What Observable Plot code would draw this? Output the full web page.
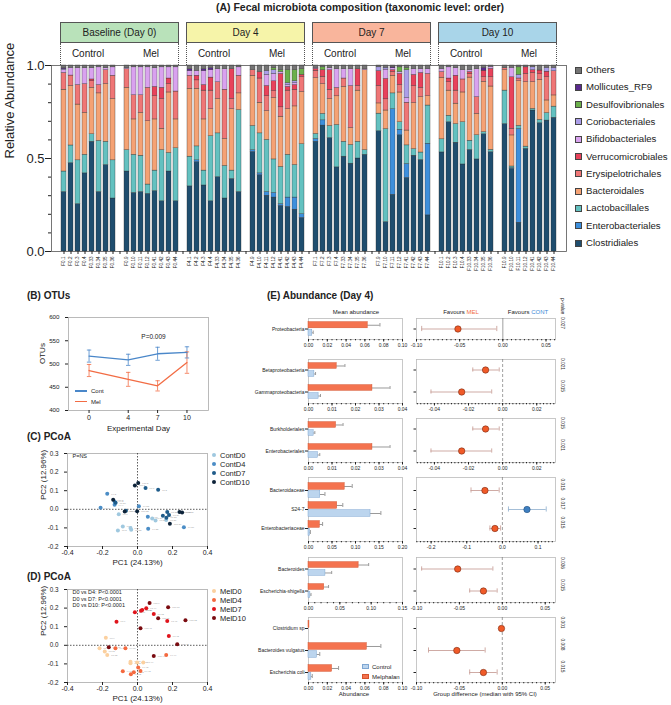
<!DOCTYPE html>
<html><head><meta charset="utf-8">
<script src="https://cdn.jsdelivr.net/npm/d3@7"></script>
<script src="https://cdn.jsdelivr.net/npm/@observablehq/plot@0.6"></script>
<style>
html,body{margin:0;padding:0;background:#fff;}
#root{position:relative;width:671px;height:705px;overflow:hidden;font-family:"Liberation Sans",Arial,Helvetica,sans-serif;color:#222;}
#root svg{position:absolute;}
.t{position:absolute;white-space:nowrap;line-height:1;}
</style></head><body><div id="root"></div>
<script>
const FONT = "Liberation Sans, Arial, Helvetica, sans-serif";
// ---------------- Panel A data ----------------
const taxa = ["Clostridiales","Enterobacteriales","Lactobacillales","Bacteroidales","Erysipelotrichales","Verrucomicrobiales","Bifidobacteriales","Coriobacteriales","Desulfovibrionales","Mollicutes_RF9","Others"];
const taxaColors = ["#1f4e6f","#3d8fdc","#63c1c0","#f5a274","#ef7676","#e8425b","#d9a2ef","#ab9ee9","#6bb04b","#5a2a8e","#747474"];
const dayLabels = ["Baseline (Day 0)","Day 4","Day 7","Day 10"];
const dayColors = ["#b9e2ba","#f6f4a9","#f9b59c","#a9d5e9"];
const groupLabels = ["Control","Mel"];
const ctrlSamples = [
 ["F0.1","F0.2","F0.3","F0.4","F0.33","F0.34","F0.35","F0.36"],
 ["F4.1","F4.2","F4.3","F4.4","F4.33","F4.34","F4.35","F4.36"],
 ["F7.1","F7.2","F7.3","F7.4","F7.33","F7.34","F7.35","F7.36"],
 ["F10.1","F10.2","F10.3","F10.4","F10.33","F10.34","F10.35","F10.36"]];
const melSamples = [
 ["F0.9","F0.10","F0.11","F0.12","F0.41","F0.42","F0.43","F0.44"],
 ["F4.9","F4.10","F4.11","F4.12","F4.41","F4.42","F4.43","F4.44"],
 ["F7.9","F7.10","F7.11","F7.12","F7.41","F7.42","F7.43","F7.44"],
 ["F10.9","F10.10","F10.11","F10.12","F10.41","F10.42","F10.43","F10.44"]];
// columns follow `taxa`
const ctrlD0 = [
 [.32,0,.11,.44,.09,0,.015,.005,0,.005,.015],
 [.475,0,.095,.32,.056,0,.04,0,0,0,.014],
 [.255,0,.235,.30,.105,0,.09,0,0,0,.015],
 [.42,0,.10,.225,.155,0,.085,0,0,0,.015],
 [.59,0,.04,.25,.035,.01,.06,0,0,0,.015],
 [.32,0,.275,.255,.045,0,.095,0,0,0,.01],
 [.465,0,.125,.31,.075,0,.01,0,0,0,.015],
 [.285,0,.205,.33,.125,0,.045,0,0,0,.01]];
const melD0 = [
 [.43,0,.115,.335,.10,0,.005,0,0,0,.015],
 [.315,0,.205,.19,.13,0,.15,0,0,0,.01],
 [.32,0,.195,.23,.095,0,.15,0,0,0,.01],
 [.31,0,.05,.34,.18,0,.11,0,0,0,.01],
 [.325,0,.11,.275,.125,.05,.10,0,0,0,.015],
 [.27,0,.275,.115,.16,.06,.11,0,0,0,.01],
 [.43,0,.10,.325,.045,.03,.06,0,0,0,.01],
 [.27,0,.285,.155,.15,0,.13,0,0,0,.01]];
const ctrlD4 = [
 [.35,0,.16,.365,.07,0,.025,0,0,.01,.02],
 [.48,.01,.075,.31,.045,.025,.025,0,0,0,.03],
 [.355,0,.08,.275,.155,.03,.075,0,0,.01,.02],
 [.27,0,.35,.145,.10,.07,.04,0,0,.01,.015],
 [.40,0,.235,.185,.09,0,.07,0,0,0,.02],
 [.285,0,.175,.145,.265,0,.11,0,0,0,.02],
 [.39,0,.045,.33,.055,.16,0,0,0,0,.02],
 [.32,0,.44,.09,.095,0,.045,0,0,0,.01]];
const melD4 = [
 [.535,.01,.13,.27,.03,0,0,0,0,0,.025],
 [.41,.01,.215,.165,.13,.035,0,0,0,0,.035],
 [.30,.02,.28,.155,.08,.055,.06,.02,0,0,.03],
 [.29,.025,.18,.33,.037,.053,.04,.02,.01,0,.015],
 [.245,.01,.20,.27,.05,.18,.01,0,.01,0,.025],
 [.24,.05,.23,.245,.10,.02,.01,.01,.07,0,.025],
 [.225,.065,.175,.315,.09,.025,.01,.01,.06,0,.025],
 [.18,.02,.375,.28,.08,.012,0,0,.03,0,.02]];
const ctrlD7 = [
 [.59,.015,.027,.30,.04,.01,.005,0,0,0,.013],
 [.677,.028,.035,.16,.04,.035,0,0,.015,0,.01],
 [.61,0,.065,.145,.05,.105,.01,0,0,0,.015],
 [.45,0,.227,.153,.045,0,.10,0,0,0,.02],
 [.51,0,.08,.295,.045,0,.05,0,0,0,.02],
 [.47,0,.10,.09,.225,0,.09,0,0,0,.02],
 [.50,0,.09,.275,.025,.09,0,0,0,0,.02],
 [.52,0,.025,.43,0,0,.005,0,0,0,.02]];
const melD7 = [
 [.65,0,.095,.055,.095,.08,0,.02,0,0,.01],
 [.158,0,.50,.10,.06,.11,.05,.01,0,0,.012],
 [.305,.46,.085,.095,.02,.01,.01,0,0,.005,.01],
 [.624,.03,.04,.16,.04,.06,.01,0,.025,0,.01],
 [.396,.075,.10,.08,.15,0,.025,.15,.01,0,.015],
 [.51,0,.035,.245,.09,.06,.03,0,0,0,.02],
 [.49,0,.04,.296,.05,.08,.02,0,0,0,.02],
 [.194,.385,.205,.05,.12,0,.025,0,0,0,.02]];
const ctrlD10 = [
 [.53,0,.07,.33,.03,0,.015,0,0,0,.02],
 [.695,0,.035,.135,.045,.02,.06,0,0,0,.01],
 [.585,0,.10,.11,.07,.08,.04,0,0,0,.015],
 [.468,0,.227,.16,.07,0,.05,0,0,0,.025],
 [.547,0,.05,.34,.02,.01,.01,0,0,0,.025],
 [.495,0,.13,.115,.09,0,.15,0,0,0,.02],
 [.63,0,.012,.27,.025,.035,0,0,0,.015,.013],
 [.534,0,.013,.34,.05,.045,.01,0,0,0,.008]];
const melD10 = [
 [.686,0,.18,.11,.01,0,0,0,0,0,.015],
 [.444,.005,.008,.167,.036,.277,.05,0,0,0,.013],
 [.155,.505,.017,.24,.015,0,0,.02,.04,0,.01],
 [.552,0,.012,.346,.045,.035,0,0,0,0,.01],
 [.758,0,.009,.143,.05,.015,0,.015,0,0,.01],
 [.69,0,.018,.215,.03,.02,0,0,0,0,.027],
 [.704,0,.04,.068,.125,.03,0,.02,0,0,.013],
 [.719,0,.06,.06,.13,0,0,.018,0,0,.013]];
const ctrlAbund = [ctrlD0, ctrlD4, ctrlD7, ctrlD10];
const melAbund = [melD0, melD4, melD7, melD10];

// ---------------- Panel B data ----------------
const otuDays = [0, 4, 7, 10];
const otuContMean = [517, 509, 522, 525];
const otuContSd = [13, 12, 14, 12];
const otuMelMean = [486, 467, 453, 503];
const otuMelSd = [13, 15, 11, 23];

// ---------------- Panel C / D data (PC1, PC2) ----------------
const contGroups = ["ContD0","ContD4","ContD7","ContD10"];
const contColors = ["#9fc8df","#4b8dc6","#1f5c8a","#0d2339"];
const pcoaContD0 = [[-0.107,-0.026],[-0.084,-0.092],[-0.112,-0.114],[-0.04,-0.10],[-0.036,-0.11],[0.084,-0.05],[0.103,-0.06],[0.164,-0.057]];
const pcoaContD4 = [[-0.211,0.008],[-0.173,0.083],[-0.131,0.042],[-0.131,0.024],[0.008,0.016],[0.059,-0.04],[0.061,-0.105],[0.265,-0.097]];
const pcoaContD7 = [[0.046,0.115],[0.118,0.105],[-0.066,-0.008],[0.145,-0.035],[0.17,-0.015],[0.18,-0.03],[0.165,-0.045],[-0.125,0.035]];
const pcoaContD10 = [[-0.015,0.128],[0.004,0.142],[-0.139,0.051],[-0.073,-0.012],[-0.002,-0.010],[0.185,-0.078],[0.24,-0.015],[0.255,-0.017]];
const melGroups = ["MelD0","MelD4","MelD7","MelD10"];
const melColors = ["#fbd09f","#f4693f","#e0141c","#7a0b10"];
const pcoaMelD0 = [[-0.181,0.04],[-0.217,-0.016],[-0.187,-0.034],[-0.173,-0.052],[-0.04,-0.088],[-0.04,-0.097],[-0.002,-0.093],[0.033,-0.093]];
const pcoaMelD4 = [[-0.126,-0.016],[-0.069,-0.016],[-0.084,-0.14],[-0.038,-0.155],[-0.021,-0.145],[0.004,-0.12],[0.017,-0.138],[0.164,-0.052]];
const pcoaMelD7 = [[-0.12,0.127],[-0.015,0.178],[0.027,0.19],[0.093,0.168],[0.17,0.13],[0.179,0.05],[0.02,0.186],[0.05,0.199]];
const pcoaMelD10 = [[0.069,0.227],[0.175,0.205],[0.118,0.146],[0.274,0.135],[0.017,0.091],[0.227,0.006],[-0.164,-0.01],[0.093,-0.058]];
const pcoaTicksX = [-0.4,-0.2,0,0.2,0.4];
const pcoaTicksY = [-0.2,-0.1,0,0.1,0.2,0.3];

// ---------------- Panel E data ----------------
const eTaxa = ["Proteobacteria","Betaproteobacteria","Gammaproteobacteria","Burkholderiales","Enterobacteriales","Bacteroidaceae","S24-7","Enterobacteriaceae","Bacteroides","Escherichia-shigella","Clostridium sp","Bacteroides vulgatus","Escherichia coli"];
const ePanelOf = [0,1,1,2,2,3,3,3,4,4,5,5,5];
const eMelMean = [0.063,0.0120,0.0272,0.0117,0.0272,0.077,0.061,0.024,0.080,0.025,0.001,0.062,0.025];
const eMelErr  = [0.013,0.0035,0.0075,0.0030,0.0075,0.016,0.012,0.006,0.016,0.007,0.000,0.015,0.007];
const eCtrlMean= [0.004,0.0025,0.0043,0.0022,0.0040,0.025,0.132,0.003,0.027,0.003,0.000,0.009,0.003];
const eCtrlErr = [0.001,0.0005,0.0008,0.0005,0.0008,0.010,0.022,0.001,0.010,0.001,0.000,0.003,0.001];
const eDiffMed = [-0.052,-0.010,-0.024,-0.010,-0.024,-0.049,0.069,-0.021,-0.052,-0.022,-0.001,-0.053,-0.022];
const eDiffLo  = [-0.094,-0.0175,-0.042,-0.0175,-0.042,-0.088,0.017,-0.035,-0.094,-0.038,-0.001,-0.086,-0.038];
const eDiffHi  = [-0.007,-0.002,-0.0064,-0.002,-0.0064,-0.009,0.123,-0.005,-0.011,-0.006,-0.001,-0.020,-0.006];
const ePValue  = ["0.027","0.021","0.015","0.015","0.021","0.015","0.017","0.015","0.036","0.015","0.001","0.008","0.015"];
const eAbundMax = [0.10,0.04,0.04,0.20,0.15,0.10];
const eAbundTicks = [[0,0.02,0.04,0.06,0.08,0.10],[0,0.01,0.02,0.03,0.04],[0,0.01,0.02,0.03,0.04],[0,0.05,0.10,0.15,0.20],[0,0.05,0.10,0.15],[0,0.02,0.04,0.06,0.08,0.10]];
const eDiffDomain = [[-0.10,0.061],[-0.0505,0.031],[-0.0505,0.031],[-0.241,0.149],[-0.10,0.062],[-0.10,0.062]];
const eDiffTicks = [[-0.10,-0.05,0,0.05],[-0.04,-0.02,0,0.02],[-0.04,-0.02,0,0.02],[-0.2,-0.1,0,0.1],[-0.10,-0.05,0,0.05],[-0.10,-0.05,0,0.05]];
const eDiffDigits = [2,2,2,1,2,2];

// ---------------- layout helpers ----------------
const root = document.getElementById("root");
function put(svg, left, top){ svg.style.left = left+"px"; svg.style.top = top+"px"; svg.style.position="absolute"; root.appendChild(svg); return svg; }
function txt(html, left, top, css){ const d=document.createElement("div"); d.className="t"; d.innerHTML=html; d.style.left=left+"px"; d.style.top=top+"px"; if(css) d.style.cssText += css; root.appendChild(d); return d; }
const baseStyle = {background:"transparent", fontFamily:FONT, overflow:"visible", color:"#222"};
const capSymbol = {draw(ctx, size){ const r=Math.sqrt(size/Math.PI); ctx.moveTo(-r,0); ctx.lineTo(r,0); }};

// ================= Panel A =================
const tidyA = []; const xDomain = [];
for (let d=0; d<4; d++){
  for (const [names, rows] of [[ctrlSamples[d], ctrlAbund[d]],[melSamples[d], melAbund[d]]]){
    names.forEach((s,i)=>{ rows[i].forEach((v,j)=>{ if (v>0) tidyA.push({sample:s, taxon:taxa[j], value:v}); }); xDomain.push(s); });
    if (xDomain.length < 71) xDomain.push("gap"+xDomain.length);
  }
}
const chartA = Plot.plot({
  width:575, height:300, marginTop:65, marginBottom:49, marginLeft:51, marginRight:9,
  style:baseStyle,
  x:{domain:xDomain, padding:0.3},
  y:{domain:[0,1]},
  color:{domain:taxa, range:taxaColors},
  marks:[
    Plot.barY(tidyA, Plot.stackY({offset:"normalize", order:taxa}, {x:"sample", y:"value", fill:"taxon", stroke:"#2b2b2b", strokeWidth:0.35})),
    Plot.frame({stroke:"#555", strokeWidth:0.8}),
    Plot.axisX({tickRotate:-90, tickSize:3, fontSize:4.6, tickPadding:2, label:null, tickFormat:d=>d.startsWith("gap")?"":d}),
    Plot.axisY({ticks:[0,0.5,1], tickFormat:d=>d.toFixed(1), fontSize:13, tickSize:6, tickPadding:1, label:null}),
    Plot.axisY({ticks:[0.1,0.2,0.3,0.4,0.6,0.7,0.8,0.9], tickFormat:()=>"", tickSize:3, label:null}),
    Plot.text(["Relative Abundance"], {frameAnchor:"left", rotate:-90, dx:-42, fontSize:13, fill:"#222"})
  ]
});
put(chartA, 0, 0);
txt("<b>(A) Fecal microbiota composition (taxonomic level: order)</b>", 360, 2, "font-size:10.5px;transform:translateX(-50%);");
{
  const sx = chartA.scale("x");
  const bw = sx.bandwidth;
  const band = d3.scaleBand().domain(xDomain).range(sx.range).paddingInner(0.3).paddingOuter(0.3);
  const pos = v => (typeof sx.apply === "function") ? sx.apply(v) : band(v);
  for (let d=0; d<4; d++){
    const c0 = pos(ctrlSamples[d][0]), c1 = pos(ctrlSamples[d][7]) + bw;
    const m0 = pos(melSamples[d][0]), m1 = pos(melSamples[d][7]) + bw;
    const left = c0 - 1.3, width = (m1 + 1.3) - left;
    const box = document.createElement("div");
    box.style.cssText = `position:absolute;left:${left}px;top:22px;width:${width}px;height:21px;box-sizing:border-box;border:1px solid #555;background:${dayColors[d]};font-size:10px;line-height:20px;text-align:center;`;
    box.textContent = dayLabels[d]; root.appendChild(box);
    const sub = document.createElement("div");
    sub.style.cssText = `position:absolute;left:${left}px;top:43px;width:${width}px;height:22px;box-sizing:border-box;border-left:1px dotted #555;border-right:1px dotted #555;`;
    root.appendChild(sub);
    txt(groupLabels[0], (c0+c1)/2, 49, "font-size:10px;transform:translateX(-50%);");
    txt(groupLabels[1], (m0+m1)/2, 49, "font-size:10px;transform:translateX(-50%);");
  }
  // legend
  for (let k=0; k<taxa.length; k++){
    const j = taxa.length-1-k;
    const y = 70 + k*17.3;
    const sq = document.createElement("div");
    sq.style.cssText = `position:absolute;left:575px;top:${y-3.5}px;width:7px;height:7px;box-sizing:border-box;background:${taxaColors[j]};border:0.6px solid #444;`;
    root.appendChild(sq);
    txt(taxa[j], 586, y-5, "font-size:9.6px;");
  }
}

// ================= Panel B =================
const otuData = otuDays.flatMap((d,i)=>[
  {day:d, group:"Cont", mean:otuContMean[i], sd:otuContSd[i]},
  {day:d, group:"Mel", mean:otuMelMean[i], sd:otuMelSd[i]}]);
const otuColor = {Cont:"#4a87c9", Mel:"#f26c44"};
const chartB = Plot.plot({
  width:230, height:140, marginLeft:68, marginRight:22, marginTop:17, marginBottom:30,
  style:baseStyle,
  x:{domain:[-2.1,12.2]}, y:{domain:[400,600]},
  marks:[
    Plot.frame({stroke:"#aaa", strokeWidth:0.8}),
    Plot.axisX({ticks:otuDays, tickSize:3, fontSize:7, tickPadding:1.5, label:null, tickFormat:d=>String(d)}),
    Plot.axisY({ticks:[400,450,500,550,600], tickSize:3, fontSize:6.2, label:null, tickFormat:d=>String(d)}),
    Plot.ruleX(otuData, {x:"day", y1:d=>d.mean-d.sd, y2:d=>d.mean+d.sd, stroke:d=>otuColor[d.group], strokeWidth:0.8}),
    Plot.dot(otuData, {x:"day", y:d=>d.mean+d.sd, symbol:capSymbol, r:2.2, fill:"none", stroke:d=>otuColor[d.group], strokeWidth:0.8}),
    Plot.dot(otuData, {x:"day", y:d=>d.mean-d.sd, symbol:capSymbol, r:2.2, fill:"none", stroke:d=>otuColor[d.group], strokeWidth:0.8}),
    Plot.line(otuData, {x:"day", y:"mean", z:"group", stroke:d=>otuColor[d.group], strokeWidth:1.3}),
    Plot.text(["P=0.009"], {frameAnchor:"top", dx:15, dy:17, fontSize:6.5, fill:"#222"}),
    Plot.text(["Experimental Day"], {frameAnchor:"bottom", dy:20, fontSize:8, fill:"#222"}),
    Plot.text(["OTUs"], {frameAnchor:"left", rotate:-90, dx:-26, fontSize:8, fill:"#222"})
  ]
});
put(chartB, 0, 300);
txt("<b>(B) OTUs</b>", 27, 291, "font-size:10px;");
[["Cont",391],["Mel",401.5]].forEach(([g,y])=>{
  const ln=document.createElement("div");
  ln.style.cssText=`position:absolute;left:75px;top:${y-0.6}px;width:12px;height:1.3px;background:${otuColor[g]};`;
  root.appendChild(ln);
  txt(g, 91, y-3, "font-size:6px;");
});

// ================= Panels C & D =================
function pcoaPlot(groups, colors, sets, sampleSets, top, height, mt, mb, annot){
  const pts = [];
  sets.forEach((set,g)=>set.forEach((p,i)=>pts.push({pc1:p[0], pc2:p[1], group:groups[g], color:colors[g], name:sampleSets[g][i]})));
  const chart = Plot.plot({
    width:230, height, marginLeft:67, marginRight:23, marginTop:mt, marginBottom:mb,
    style:baseStyle,
    x:{domain:[-0.4,0.4]}, y:{domain:[-0.2,0.3]},
    marks:[
      Plot.frame({stroke:"#aaa", strokeWidth:0.8}),
      Plot.ruleX([0], {stroke:"#333", strokeWidth:0.8, strokeDasharray:"1.5,1.5"}),
      Plot.ruleY([0], {stroke:"#333", strokeWidth:0.8, strokeDasharray:"1.5,1.5"}),
      Plot.axisX({ticks:pcoaTicksX, tickFormat:d=>d.toFixed(1), tickSize:3, tickPadding:1, fontSize:7, label:null}),
      Plot.axisY({ticks:pcoaTicksY, tickFormat:d=>d.toFixed(1), tickSize:3, fontSize:6.3, label:null}),
      Plot.text(pts, {x:"pc1", y:"pc2", text:"name", dx:4, textAnchor:"start", fontSize:2.4, fill:"#999"}),
      Plot.dot(pts, {x:"pc1", y:"pc2", r:2, fill:"color"}),
      Plot.text(annot, {frameAnchor:"top-left", dx:5, lineAnchor:"top", fontSize:5.5, fill:"#222", lineHeight:1.2}),
      Plot.text(["PC1 (24.13%)"], {frameAnchor:"bottom", dy:18, fontSize:8, fill:"#222"}),
      Plot.text(["PC2 (12.96%)"], {frameAnchor:"left", rotate:-90, dx:-24, fontSize:8, fill:"#222"})
    ]
  });
  put(chart, 0, top);
  return chart;
}
pcoaPlot(contGroups, contColors, [pcoaContD0,pcoaContD4,pcoaContD7,pcoaContD10], ctrlSamples, 440, 135, 13, 29, ["P=NS"]);
pcoaPlot(melGroups, melColors, [pcoaMelD0,pcoaMelD4,pcoaMelD7,pcoaMelD10], melSamples, 580, 125, 9, 23, ["D0 vs D4: P<0.0001\nD0 vs D7: P<0.0001\nD0 vs D10: P<0.0001"]);
txt("<b>(C) PCoA</b>", 27, 432, "font-size:10px;");
txt("<b>(D) PCoA</b>", 27, 572, "font-size:10px;");
function pcoaLegend(groups, colors, y0){
  groups.forEach((g,i)=>{
    const y = y0 + i*9;
    const c=document.createElement("div");
    c.style.cssText=`position:absolute;left:212px;top:${y-2}px;width:4px;height:4px;border-radius:50%;background:${colors[i]};`;
    root.appendChild(c);
    txt(g, 220, y-3.5, "font-size:7.5px;");
  });
}
pcoaLegend(contGroups, contColors, 455);
pcoaLegend(melGroups, melColors, 591);

// ================= Panel E =================
const eFrames = [[318,339],[359,403],[418,462],[477,541],[557,602],[617,682]];
const ePadIn = [0.3,0.3,0.3,0.17,0.3,0.28];
const ePadOut = [0.14,0.11,0.11,0.24,0.14,0.1];
const melFill="#f4734f", melStroke="#d4532c", ctlFill="#bcd5ee", ctlStroke="#7ea6d2";
for (let k=0; k<6; k++){
  const idx = eTaxa.map((_,i)=>i).filter(i=>ePanelOf[i]===k);
  const cats = idx.map(i=>eTaxa[i]);
  const [t,b] = eFrames[k]; const H = b-t; const n = cats.length;
  const pi = ePadIn[k], po = ePadOut[k];
  const bw = H*(1-pi)/(n-pi+2*po); const half = bw/2;
  const mel = idx.map(i=>({cat:eTaxa[i], m:eMelMean[i], e:eMelErr[i]}));
  const ctl = idx.map(i=>({cat:eTaxa[i], m:eCtrlMean[i], e:eCtrlErr[i]}));
  const mt = 3, mb = 14;
  const yopt = {domain:cats, paddingInner:pi, paddingOuter:po};
  const left = Plot.plot({
    width:180, height:H+mt+mb, marginLeft:78, marginRight:8, marginTop:mt, marginBottom:mb,
    style:baseStyle, x:{domain:[0,eAbundMax[k]]}, y:yopt,
    marks:[
      Plot.frame({stroke:"#bbb", strokeWidth:0.8}),
      Plot.ruleY(mel.filter(d=>d.e>0), {y:"cat", x1:"m", x2:d=>d.m+d.e, dy:-half/2, stroke:"#555", strokeWidth:0.6}),
      Plot.tickX(mel.filter(d=>d.e>0), {x:d=>d.m+d.e, y:"cat", insetTop:2, insetBottom:half+2, stroke:"#555", strokeWidth:0.6}),
      Plot.ruleY(ctl.filter(d=>d.e>0), {y:"cat", x1:"m", x2:d=>d.m+d.e, dy:half/2, stroke:"#555", strokeWidth:0.6}),
      Plot.tickX(ctl.filter(d=>d.e>0), {x:d=>d.m+d.e, y:"cat", insetTop:half+2, insetBottom:2, stroke:"#555", strokeWidth:0.6}),
      Plot.barX(mel, {x:"m", y:"cat", insetTop:0.7, insetBottom:half+0.7, fill:melFill, stroke:melStroke, strokeWidth:0.5}),
      Plot.barX(ctl, {x:"m", y:"cat", insetTop:half+0.7, insetBottom:0.7, fill:ctlFill, stroke:ctlStroke, strokeWidth:0.5}),
      Plot.axisY({tickSize:3, fontSize:5, tickPadding:1, label:null}),
      Plot.axisX({ticks:eAbundTicks[k], tickFormat:d=>d.toFixed(2), tickSize:2.5, fontSize:5, tickPadding:1, label:null}),
      Plot.axisX({ticks:eAbundTicks[k].length*4, tickFormat:()=>"", tickSize:1.3, label:null})
    ]
  });
  put(left, 230, t-mt);
  const diff = idx.map(i=>({cat:eTaxa[i], med:eDiffMed[i], lo:eDiffLo[i], hi:eDiffHi[i], p:ePValue[i],
    ci: eDiffMed[i]>0 ? "#9ab7d2" : "#c9a19b", fill: eDiffMed[i]>0 ? "#3e7fc1" : "#f05a28", st: eDiffMed[i]>0 ? "#27527f" : "#7a2a12"}));
  const capIn = half - 2.6;
  const right = Plot.plot({
    width:170, height:H+mt+mb, marginLeft:11, marginRight:20, marginTop:mt, marginBottom:mb,
    style:baseStyle, x:{domain:eDiffDomain[k]}, y:yopt,
    marks:[
      Plot.frame({stroke:"#bbb", strokeWidth:0.8}),
      Plot.ruleX([0], {stroke:"#777", strokeWidth:0.7, strokeDasharray: k===0 ? null : "3,2"}),
      Plot.axisY({tickSize:2.5, tickFormat:()=>"", label:null}),
      Plot.axisX({ticks:eDiffTicks[k], tickFormat:d=>d.toFixed(eDiffDigits[k]), tickSize:2.5, fontSize:5, tickPadding:1, label:null}),
      Plot.axisX({ticks:40, tickFormat:()=>"", tickSize:1.3, label:null}),
      Plot.ruleY(diff.filter(d=>d.hi>d.lo), {y:"cat", x1:"lo", x2:"hi", stroke:"ci", strokeWidth:0.9}),
      Plot.tickX(diff.filter(d=>d.hi>d.lo), {x:"lo", y:"cat", insetTop:capIn, insetBottom:capIn, stroke:"ci", strokeWidth:0.9}),
      Plot.tickX(diff.filter(d=>d.hi>d.lo), {x:"hi", y:"cat", insetTop:capIn, insetBottom:capIn, stroke:"ci", strokeWidth:0.9}),
      Plot.dot(diff, {x:"med", y:"cat", r:3.2, fill:"fill", stroke:"st", strokeWidth:0.6}),
      Plot.text(diff, {y:"cat", text:"p", frameAnchor:"right", dx:7, rotate:90, fontSize:4.8, fill:"#333"})
    ]
  });
  put(right, 405, t-mt);
}
txt("<b>(E) Abundance (Day 4)</b>", 267, 291, "font-size:10px;");
txt("Mean abundance", 356, 309, "font-size:6px;transform:translateX(-50%);");
txt('Favours <span style="color:#f26c44">MEL</span>', 461, 309, "font-size:6px;transform:translateX(-50%);");
txt('Favours <span style="color:#3e8ad6">CONT</span>', 528, 309, "font-size:6px;transform:translateX(-50%);");
txt("p-value", 557, 298, "font-size:5px;transform:rotate(90deg);transform-origin:0 0;left:565px;");
txt("Abundance", 354, 691, "font-size:6px;transform:translateX(-50%);");
txt("Group difference (median with 95% CI)", 485, 691, "font-size:6px;transform:translateX(-50%);");
[["Control",ctlFill,ctlStroke,666.5],["Melphalan",melFill,melStroke,676.5]].forEach(([lab,f,s,y])=>{
  const sq=document.createElement("div");
  sq.style.cssText=`position:absolute;left:362px;top:${y-2.5}px;width:7px;height:5px;box-sizing:border-box;background:${f};border:0.6px solid ${s};`;
  root.appendChild(sq);
  txt(lab, 372, y-3, "font-size:6px;");
});
</script></body></html>
